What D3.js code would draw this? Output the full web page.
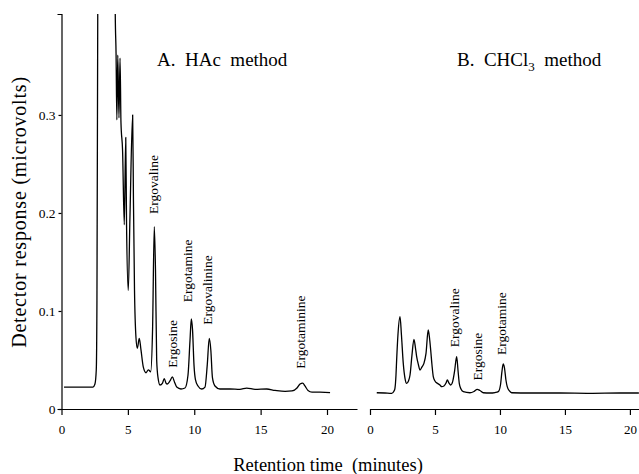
<!DOCTYPE html>
<html><head><meta charset="utf-8">
<script src="https://cdn.jsdelivr.net/npm/d3@7"></script>
<style>
body{margin:0;background:#fff;}
svg{display:block;}
text{font-family:"Liberation Serif","Times New Roman",serif;fill:#000;}
</style></head>
<body><svg id="c" width="639" height="474"></svg>
<script>
// Panel A (HAc method) trace
const aTime = [0.19,1.39,2.37,2.52,2.62,2.67,2.73,2.79,3.5,3.98,4.05,4.11,4.17,4.24,4.33,4.41,4.48,4.60,4.73,4.84,4.90,5.03,5.16,5.36,5.42,5.50,5.61,5.71,5.86,5.99,6.16,6.37,6.54,6.72,6.86,6.99,7.08,7.17,7.27,7.42,7.61,7.74,7.87,7.97,8.17,8.35,8.51,8.68,9.00,9.30,9.53,9.68,9.78,9.87,9.98,10.09,10.28,10.56,10.81,10.98,11.13,11.25,11.37,11.56,11.94,12.69,13.44,13.95,14.58,15.46,16.08,16.84,17.36,17.74,17.97,18.17,18.34,18.57,18.87,19.47,20.23];
const aSignal = [0.0224,0.0224,0.0224,0.0255,0.040,0.111,0.403,0.6,0.9,0.6,0.403,0.363,0.295,0.361,0.297,0.358,0.292,0.264,0.188,0.277,0.188,0.121,0.198,0.300,0.213,0.121,0.073,0.062,0.072,0.060,0.043,0.037,0.040,0.038,0.081,0.186,0.142,0.050,0.032,0.0245,0.0265,0.031,0.0265,0.0255,0.0286,0.0327,0.0276,0.0224,0.0204,0.0214,0.0347,0.070,0.092,0.081,0.045,0.030,0.0235,0.0204,0.0224,0.045,0.072,0.060,0.032,0.0235,0.0204,0.0204,0.020,0.0214,0.020,0.0204,0.019,0.0179,0.0184,0.0214,0.0255,0.0265,0.0235,0.019,0.0173,0.0173,0.0168];
// Panel B (CHCl3 method) trace
const bTime = [0.52,1.15,1.67,1.85,1.92,2.0,2.05,2.15,2.31,2.42,2.56,2.69,2.82,2.96,3.08,3.23,3.38,3.5,3.59,3.73,3.85,4.0,4.15,4.31,4.48,4.58,4.67,4.77,4.87,5.0,5.18,5.38,5.52,5.69,5.85,5.95,6.08,6.21,6.36,6.5,6.67,6.77,6.87,7.0,7.18,7.69,8.0,8.25,8.46,8.72,9.23,9.62,9.87,10.04,10.15,10.25,10.35,10.46,10.56,10.73,10.9,12.31,14.62,16.92,19.23,20.69];
const bSignal = [0.0166,0.0163,0.016,0.0184,0.0211,0.0347,0.050,0.0755,0.0942,0.0755,0.0466,0.0316,0.0262,0.0286,0.0347,0.055,0.0711,0.0622,0.0534,0.0449,0.0398,0.0429,0.0466,0.0568,0.0806,0.0724,0.0602,0.0449,0.033,0.0286,0.0262,0.0245,0.0228,0.0235,0.0265,0.0296,0.0265,0.0245,0.0279,0.0378,0.0534,0.0398,0.0262,0.0204,0.0177,0.0166,0.0179,0.0201,0.0189,0.0166,0.0163,0.0168,0.0177,0.0245,0.0378,0.0459,0.0418,0.0296,0.0228,0.0184,0.0166,0.0163,0.0163,0.016,0.0163,0.0163];
// Peak labels
const aLabels = ["Ergovaline","Ergosine","Ergotamine","Ergovalinine","Ergotaminine"];
const aLabelTime = [6.9,8.37,9.48,10.99,17.97];
const aLabelValue = [0.199,0.042,0.109,0.086,0.041];
const bLabels = ["Ergovaline","Ergosine","Ergotamine"];
const bLabelTime = [6.46,8.25,10.13];
const bLabelValue = [0.063,0.029,0.055];
const xTicks = [0,5,10,15,20];
const yTicks = [0,0.1,0.2,0.3];

const svg = d3.select("#c");
const y = d3.scaleLinear().domain([0,0.403]).range([409,14]);
const xA = d3.scaleLinear().domain([0,22.26]).range([61.5,357]);
const xB = d3.scaleLinear().domain([0,20.7]).range([370,639]);

svg.append("defs").append("clipPath").attr("id","clip")
  .append("rect").attr("x",0).attr("y",14).attr("width",639).attr("height",460);

// axes
const gxA = svg.append("g").attr("transform","translate(0,409)")
  .call(d3.axisBottom(xA).tickValues(xTicks).tickSize(6).tickSizeOuter(0).tickPadding(10).tickFormat(d3.format("d")));
const gxB = svg.append("g").attr("transform","translate(0,409)")
  .call(d3.axisBottom(xB).tickValues(xTicks).tickSize(6).tickSizeOuter(0).tickPadding(10).tickFormat(d3.format("d")));
const gy = svg.append("g").attr("transform","translate(61.5,0)")
  .call(d3.axisLeft(y).tickValues(yTicks).tickSize(3).tickSizeOuter(4).tickPadding(3).tickFormat(d=>d===0?"0":d3.format(".1f")(d)));
[gxA,gxB,gy].forEach(g=>{
  g.attr("font-family","Liberation Serif, serif");
  g.selectAll("path,line").attr("stroke","#000").attr("stroke-width",1.2);
  g.selectAll("text").attr("font-size",13).attr("fill","#000");
});
gy.selectAll("text").attr("font-size",13.5);

// traces
const line = d3.line().curve(d3.curveMonotoneX);
const plot = svg.append("g").attr("clip-path","url(#clip)");
plot.append("path")
  .attr("d", line(aTime.map((t,i)=>[xA(t), y(aSignal[i])])))
  .attr("fill","none").attr("stroke","#000").attr("stroke-width",1.3).attr("stroke-linejoin","round");
plot.append("path")
  .attr("d", line(bTime.map((t,i)=>[xB(t), y(bSignal[i])])))
  .attr("fill","none").attr("stroke","#000").attr("stroke-width",1.3).attr("stroke-linejoin","round");

// peak labels
function addLabels(names, ts, vs, xs){
  names.forEach((n,i)=>{
    svg.append("text")
      .attr("transform",`translate(${xs(ts[i])},${y(vs[i])}) rotate(-90)`)
      .attr("dy","0.35em").attr("text-anchor","start")
      .attr("font-size",13.5).text(n);
  });
}
addLabels(aLabels,aLabelTime,aLabelValue,xA);
addLabels(bLabels,bLabelTime,bLabelValue,xB);

// titles
svg.append("text").attr("x",157).attr("y",66).attr("font-size",19)
  .style("white-space","pre").text("A.  HAc  method");
const tB = svg.append("text").attr("x",457).attr("y",66).attr("font-size",19)
  .style("white-space","pre");
tB.append("tspan").text("B.  CHCl");
tB.append("tspan").attr("font-size",13).attr("dy",5).text("3");
tB.append("tspan").attr("dy",-5).text("  method");

// axis titles
svg.append("text").attr("x",328).attr("y",471).attr("text-anchor","middle").attr("font-size",18.5)
  .style("white-space","pre").text("Retention time  (minutes)");
svg.append("text").attr("transform","translate(19,212) rotate(-90)").attr("text-anchor","middle")
  .attr("dy","0.35em").attr("font-size",20).attr("letter-spacing",0.8).text("Detector response (microvolts)");
</script></body></html>
